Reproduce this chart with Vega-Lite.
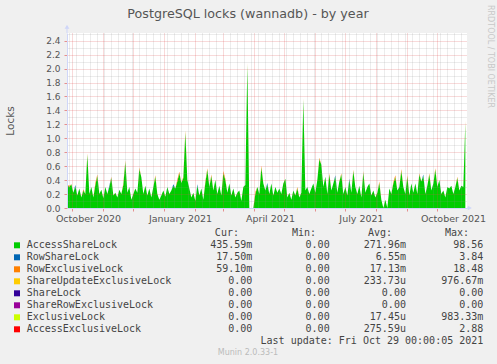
{
"$schema": "https://vega.github.io/schema/vega-lite/v6.json",
"width": 400, "height": 175,
"autosize": {"type": "none"},
"padding": {"left": 67, "top": 33, "right": 30, "bottom": 156},
"background": "#F0F0F0",
"config": {"view": {"fill": "#ffffff", "stroke": null}, "font": "DejaVu Sans"},
"title": {"text": "PostgreSQL locks (wannadb) - by year", "font": "DejaVu Sans", "fontSize": 12.7, "fontWeight": "normal", "color": "#555555", "anchor": "middle", "frame": "group", "dx": -19, "offset": -16},
"datasets": {
"series": [
{"t":"2020-09-26","AccessShareLock":0.33,"RowShareLock":0,"RowExclusiveLock":0},
{"t":"2020-09-28","AccessShareLock":0.30,"RowShareLock":0,"RowExclusiveLock":0.02},
{"t":"2020-09-30","AccessShareLock":0.34,"RowShareLock":0,"RowExclusiveLock":0},
{"t":"2020-10-02","AccessShareLock":0.22,"RowShareLock":0,"RowExclusiveLock":0},
{"t":"2020-10-04","AccessShareLock":0.31,"RowShareLock":0.02,"RowExclusiveLock":0},
{"t":"2020-10-06","AccessShareLock":0.18,"RowShareLock":0,"RowExclusiveLock":0},
{"t":"2020-10-08","AccessShareLock":0.28,"RowShareLock":0,"RowExclusiveLock":0},
{"t":"2020-10-10","AccessShareLock":0.15,"RowShareLock":0,"RowExclusiveLock":0},
{"t":"2020-10-12","AccessShareLock":0.25,"RowShareLock":0,"RowExclusiveLock":0.02},
{"t":"2020-10-14","AccessShareLock":0.20,"RowShareLock":0,"RowExclusiveLock":0},
{"t":"2020-10-16","AccessShareLock":0.76,"RowShareLock":0,"RowExclusiveLock":0.02},
{"t":"2020-10-18","AccessShareLock":0.20,"RowShareLock":0,"RowExclusiveLock":0},
{"t":"2020-10-20","AccessShareLock":0.30,"RowShareLock":0,"RowExclusiveLock":0},
{"t":"2020-10-22","AccessShareLock":0.15,"RowShareLock":0,"RowExclusiveLock":0},
{"t":"2020-10-24","AccessShareLock":0.33,"RowShareLock":0,"RowExclusiveLock":0.03},
{"t":"2020-10-26","AccessShareLock":0.46,"RowShareLock":0,"RowExclusiveLock":0.02},
{"t":"2020-10-28","AccessShareLock":0.20,"RowShareLock":0,"RowExclusiveLock":0},
{"t":"2020-10-30","AccessShareLock":0.26,"RowShareLock":0,"RowExclusiveLock":0},
{"t":"2020-11-01","AccessShareLock":0.14,"RowShareLock":0,"RowExclusiveLock":0},
{"t":"2020-11-03","AccessShareLock":0.30,"RowShareLock":0,"RowExclusiveLock":0},
{"t":"2020-11-05","AccessShareLock":0.20,"RowShareLock":0,"RowExclusiveLock":0},
{"t":"2020-11-07","AccessShareLock":0.30,"RowShareLock":0.02,"RowExclusiveLock":0},
{"t":"2020-11-09","AccessShareLock":0.43,"RowShareLock":0,"RowExclusiveLock":0.02},
{"t":"2020-11-11","AccessShareLock":0.18,"RowShareLock":0,"RowExclusiveLock":0},
{"t":"2020-11-13","AccessShareLock":0.22,"RowShareLock":0,"RowExclusiveLock":0},
{"t":"2020-11-15","AccessShareLock":0.15,"RowShareLock":0,"RowExclusiveLock":0},
{"t":"2020-11-17","AccessShareLock":0.26,"RowShareLock":0,"RowExclusiveLock":0},
{"t":"2020-11-19","AccessShareLock":0.20,"RowShareLock":0,"RowExclusiveLock":0},
{"t":"2020-11-21","AccessShareLock":0.33,"RowShareLock":0,"RowExclusiveLock":0.02},
{"t":"2020-11-23","AccessShareLock":0.66,"RowShareLock":0,"RowExclusiveLock":0.02},
{"t":"2020-11-25","AccessShareLock":0.22,"RowShareLock":0,"RowExclusiveLock":0},
{"t":"2020-11-27","AccessShareLock":0.30,"RowShareLock":0,"RowExclusiveLock":0},
{"t":"2020-11-29","AccessShareLock":0.12,"RowShareLock":0,"RowExclusiveLock":0},
{"t":"2020-12-01","AccessShareLock":0.20,"RowShareLock":0,"RowExclusiveLock":0},
{"t":"2020-12-03","AccessShareLock":0.28,"RowShareLock":0,"RowExclusiveLock":0},
{"t":"2020-12-05","AccessShareLock":0.22,"RowShareLock":0,"RowExclusiveLock":0},
{"t":"2020-12-07","AccessShareLock":0.56,"RowShareLock":0,"RowExclusiveLock":0.02},
{"t":"2020-12-09","AccessShareLock":0.44,"RowShareLock":0,"RowExclusiveLock":0},
{"t":"2020-12-11","AccessShareLock":0.20,"RowShareLock":0,"RowExclusiveLock":0},
{"t":"2020-12-13","AccessShareLock":0.32,"RowShareLock":0,"RowExclusiveLock":0},
{"t":"2020-12-15","AccessShareLock":0.18,"RowShareLock":0,"RowExclusiveLock":0},
{"t":"2020-12-17","AccessShareLock":0.28,"RowShareLock":0,"RowExclusiveLock":0},
{"t":"2020-12-19","AccessShareLock":0.15,"RowShareLock":0,"RowExclusiveLock":0},
{"t":"2020-12-21","AccessShareLock":0.30,"RowShareLock":0,"RowExclusiveLock":0},
{"t":"2020-12-23","AccessShareLock":0.45,"RowShareLock":0,"RowExclusiveLock":0.02},
{"t":"2020-12-25","AccessShareLock":0.20,"RowShareLock":0,"RowExclusiveLock":0},
{"t":"2020-12-27","AccessShareLock":0.12,"RowShareLock":0,"RowExclusiveLock":0},
{"t":"2020-12-29","AccessShareLock":0.18,"RowShareLock":0,"RowExclusiveLock":0},
{"t":"2020-12-31","AccessShareLock":0.25,"RowShareLock":0,"RowExclusiveLock":0},
{"t":"2021-01-02","AccessShareLock":0.16,"RowShareLock":0,"RowExclusiveLock":0},
{"t":"2021-01-04","AccessShareLock":0.30,"RowShareLock":0,"RowExclusiveLock":0},
{"t":"2021-01-06","AccessShareLock":0.20,"RowShareLock":0,"RowExclusiveLock":0},
{"t":"2021-01-08","AccessShareLock":0.25,"RowShareLock":0,"RowExclusiveLock":0},
{"t":"2021-01-10","AccessShareLock":0.32,"RowShareLock":0.02,"RowExclusiveLock":0},
{"t":"2021-01-12","AccessShareLock":0.28,"RowShareLock":0,"RowExclusiveLock":0},
{"t":"2021-01-14","AccessShareLock":0.38,"RowShareLock":0,"RowExclusiveLock":0.03},
{"t":"2021-01-16","AccessShareLock":0.50,"RowShareLock":0,"RowExclusiveLock":0.02},
{"t":"2021-01-18","AccessShareLock":0.36,"RowShareLock":0,"RowExclusiveLock":0},
{"t":"2021-01-20","AccessShareLock":0.43,"RowShareLock":0,"RowExclusiveLock":0.02},
{"t":"2021-01-22","AccessShareLock":1.08,"RowShareLock":0,"RowExclusiveLock":0.03},
{"t":"2021-01-24","AccessShareLock":0.40,"RowShareLock":0,"RowExclusiveLock":0},
{"t":"2021-01-26","AccessShareLock":0.28,"RowShareLock":0,"RowExclusiveLock":0},
{"t":"2021-01-28","AccessShareLock":0.15,"RowShareLock":0,"RowExclusiveLock":0},
{"t":"2021-01-30","AccessShareLock":0.22,"RowShareLock":0,"RowExclusiveLock":0},
{"t":"2021-02-01","AccessShareLock":0.10,"RowShareLock":0,"RowExclusiveLock":0},
{"t":"2021-02-03","AccessShareLock":0.32,"RowShareLock":0.02,"RowExclusiveLock":0},
{"t":"2021-02-05","AccessShareLock":0.18,"RowShareLock":0,"RowExclusiveLock":0},
{"t":"2021-02-07","AccessShareLock":0.28,"RowShareLock":0,"RowExclusiveLock":0},
{"t":"2021-02-09","AccessShareLock":0.12,"RowShareLock":0,"RowExclusiveLock":0},
{"t":"2021-02-11","AccessShareLock":0.36,"RowShareLock":0,"RowExclusiveLock":0.02},
{"t":"2021-02-13","AccessShareLock":0.55,"RowShareLock":0,"RowExclusiveLock":0.02},
{"t":"2021-02-15","AccessShareLock":0.30,"RowShareLock":0,"RowExclusiveLock":0},
{"t":"2021-02-17","AccessShareLock":0.46,"RowShareLock":0,"RowExclusiveLock":0.02},
{"t":"2021-02-19","AccessShareLock":0.25,"RowShareLock":0,"RowExclusiveLock":0},
{"t":"2021-02-21","AccessShareLock":0.40,"RowShareLock":0,"RowExclusiveLock":0},
{"t":"2021-02-23","AccessShareLock":0.20,"RowShareLock":0,"RowExclusiveLock":0},
{"t":"2021-02-25","AccessShareLock":0.32,"RowShareLock":0,"RowExclusiveLock":0},
{"t":"2021-02-27","AccessShareLock":0.18,"RowShareLock":0,"RowExclusiveLock":0},
{"t":"2021-03-01","AccessShareLock":0.50,"RowShareLock":0,"RowExclusiveLock":0.03},
{"t":"2021-03-03","AccessShareLock":0.40,"RowShareLock":0,"RowExclusiveLock":0.02},
{"t":"2021-03-05","AccessShareLock":0.22,"RowShareLock":0,"RowExclusiveLock":0},
{"t":"2021-03-07","AccessShareLock":0.35,"RowShareLock":0,"RowExclusiveLock":0},
{"t":"2021-03-09","AccessShareLock":0.18,"RowShareLock":0,"RowExclusiveLock":0},
{"t":"2021-03-11","AccessShareLock":0.28,"RowShareLock":0,"RowExclusiveLock":0},
{"t":"2021-03-13","AccessShareLock":0.15,"RowShareLock":0,"RowExclusiveLock":0},
{"t":"2021-03-15","AccessShareLock":0.22,"RowShareLock":0,"RowExclusiveLock":0},
{"t":"2021-03-17","AccessShareLock":0.25,"RowShareLock":0,"RowExclusiveLock":0},
{"t":"2021-03-19","AccessShareLock":0.10,"RowShareLock":0,"RowExclusiveLock":0},
{"t":"2021-03-21","AccessShareLock":0.30,"RowShareLock":0,"RowExclusiveLock":0},
{"t":"2021-03-23","AccessShareLock":0.33,"RowShareLock":0,"RowExclusiveLock":0},
{"t":"2021-03-25","AccessShareLock":2.05,"RowShareLock":0,"RowExclusiveLock":0.03},
{"t":"2021-03-27","AccessShareLock":0,"RowShareLock":0,"RowExclusiveLock":0},
{"t":"2021-03-29","AccessShareLock":0,"RowShareLock":0,"RowExclusiveLock":0},
{"t":"2021-03-31","AccessShareLock":0,"RowShareLock":0,"RowExclusiveLock":0},
{"t":"2021-04-02","AccessShareLock":0.20,"RowShareLock":0,"RowExclusiveLock":0.03},
{"t":"2021-04-04","AccessShareLock":0.30,"RowShareLock":0,"RowExclusiveLock":0},
{"t":"2021-04-06","AccessShareLock":0.20,"RowShareLock":0,"RowExclusiveLock":0},
{"t":"2021-04-08","AccessShareLock":0.58,"RowShareLock":0,"RowExclusiveLock":0.03},
{"t":"2021-04-10","AccessShareLock":0.35,"RowShareLock":0,"RowExclusiveLock":0},
{"t":"2021-04-12","AccessShareLock":0.25,"RowShareLock":0,"RowExclusiveLock":0},
{"t":"2021-04-14","AccessShareLock":0.34,"RowShareLock":0.02,"RowExclusiveLock":0},
{"t":"2021-04-16","AccessShareLock":0.20,"RowShareLock":0,"RowExclusiveLock":0},
{"t":"2021-04-18","AccessShareLock":0.35,"RowShareLock":0,"RowExclusiveLock":0},
{"t":"2021-04-20","AccessShareLock":0.18,"RowShareLock":0,"RowExclusiveLock":0},
{"t":"2021-04-22","AccessShareLock":0.30,"RowShareLock":0,"RowExclusiveLock":0},
{"t":"2021-04-24","AccessShareLock":0.22,"RowShareLock":0,"RowExclusiveLock":0},
{"t":"2021-04-26","AccessShareLock":0.28,"RowShareLock":0,"RowExclusiveLock":0},
{"t":"2021-04-28","AccessShareLock":0.20,"RowShareLock":0,"RowExclusiveLock":0},
{"t":"2021-04-30","AccessShareLock":0.35,"RowShareLock":0,"RowExclusiveLock":0},
{"t":"2021-05-02","AccessShareLock":0.42,"RowShareLock":0,"RowExclusiveLock":0},
{"t":"2021-05-04","AccessShareLock":0.15,"RowShareLock":0,"RowExclusiveLock":0},
{"t":"2021-05-06","AccessShareLock":0.22,"RowShareLock":0,"RowExclusiveLock":0},
{"t":"2021-05-08","AccessShareLock":0.12,"RowShareLock":0,"RowExclusiveLock":0},
{"t":"2021-05-10","AccessShareLock":0.25,"RowShareLock":0,"RowExclusiveLock":0},
{"t":"2021-05-12","AccessShareLock":0.18,"RowShareLock":0,"RowExclusiveLock":0},
{"t":"2021-05-14","AccessShareLock":0.28,"RowShareLock":0,"RowExclusiveLock":0.02},
{"t":"2021-05-16","AccessShareLock":0.15,"RowShareLock":0,"RowExclusiveLock":0},
{"t":"2021-05-18","AccessShareLock":0.22,"RowShareLock":0,"RowExclusiveLock":0},
{"t":"2021-05-20","AccessShareLock":1.55,"RowShareLock":0,"RowExclusiveLock":0.02},
{"t":"2021-05-22","AccessShareLock":0.25,"RowShareLock":0,"RowExclusiveLock":0},
{"t":"2021-05-24","AccessShareLock":0.30,"RowShareLock":0,"RowExclusiveLock":0},
{"t":"2021-05-26","AccessShareLock":0.20,"RowShareLock":0,"RowExclusiveLock":0},
{"t":"2021-05-28","AccessShareLock":0.28,"RowShareLock":0,"RowExclusiveLock":0},
{"t":"2021-05-30","AccessShareLock":0.35,"RowShareLock":0,"RowExclusiveLock":0},
{"t":"2021-06-01","AccessShareLock":0.22,"RowShareLock":0,"RowExclusiveLock":0},
{"t":"2021-06-03","AccessShareLock":0.40,"RowShareLock":0,"RowExclusiveLock":0},
{"t":"2021-06-05","AccessShareLock":0.70,"RowShareLock":0,"RowExclusiveLock":0.02},
{"t":"2021-06-07","AccessShareLock":0.62,"RowShareLock":0,"RowExclusiveLock":0},
{"t":"2021-06-09","AccessShareLock":0.30,"RowShareLock":0,"RowExclusiveLock":0},
{"t":"2021-06-11","AccessShareLock":0.45,"RowShareLock":0,"RowExclusiveLock":0},
{"t":"2021-06-13","AccessShareLock":0.20,"RowShareLock":0,"RowExclusiveLock":0},
{"t":"2021-06-15","AccessShareLock":0.48,"RowShareLock":0,"RowExclusiveLock":0.02},
{"t":"2021-06-17","AccessShareLock":0.25,"RowShareLock":0,"RowExclusiveLock":0},
{"t":"2021-06-19","AccessShareLock":0.35,"RowShareLock":0,"RowExclusiveLock":0},
{"t":"2021-06-21","AccessShareLock":0.45,"RowShareLock":0.02,"RowExclusiveLock":0},
{"t":"2021-06-23","AccessShareLock":0.22,"RowShareLock":0,"RowExclusiveLock":0},
{"t":"2021-06-25","AccessShareLock":0.38,"RowShareLock":0,"RowExclusiveLock":0},
{"t":"2021-06-27","AccessShareLock":0.48,"RowShareLock":0,"RowExclusiveLock":0.02},
{"t":"2021-06-29","AccessShareLock":0.20,"RowShareLock":0,"RowExclusiveLock":0},
{"t":"2021-07-01","AccessShareLock":0.30,"RowShareLock":0,"RowExclusiveLock":0},
{"t":"2021-07-03","AccessShareLock":0.18,"RowShareLock":0,"RowExclusiveLock":0},
{"t":"2021-07-05","AccessShareLock":0.40,"RowShareLock":0.02,"RowExclusiveLock":0},
{"t":"2021-07-07","AccessShareLock":0.22,"RowShareLock":0,"RowExclusiveLock":0},
{"t":"2021-07-09","AccessShareLock":0.53,"RowShareLock":0,"RowExclusiveLock":0.02},
{"t":"2021-07-11","AccessShareLock":0.30,"RowShareLock":0,"RowExclusiveLock":0},
{"t":"2021-07-13","AccessShareLock":0.20,"RowShareLock":0,"RowExclusiveLock":0},
{"t":"2021-07-15","AccessShareLock":0.32,"RowShareLock":0,"RowExclusiveLock":0},
{"t":"2021-07-17","AccessShareLock":0.15,"RowShareLock":0,"RowExclusiveLock":0},
{"t":"2021-07-19","AccessShareLock":0.51,"RowShareLock":0,"RowExclusiveLock":0.02},
{"t":"2021-07-21","AccessShareLock":0.22,"RowShareLock":0,"RowExclusiveLock":0},
{"t":"2021-07-23","AccessShareLock":0.30,"RowShareLock":0,"RowExclusiveLock":0},
{"t":"2021-07-25","AccessShareLock":0.35,"RowShareLock":0,"RowExclusiveLock":0},
{"t":"2021-07-27","AccessShareLock":0.18,"RowShareLock":0,"RowExclusiveLock":0},
{"t":"2021-07-29","AccessShareLock":0.25,"RowShareLock":0,"RowExclusiveLock":0},
{"t":"2021-07-31","AccessShareLock":0.15,"RowShareLock":0,"RowExclusiveLock":0},
{"t":"2021-08-02","AccessShareLock":0.22,"RowShareLock":0,"RowExclusiveLock":0},
{"t":"2021-08-04","AccessShareLock":0.36,"RowShareLock":0,"RowExclusiveLock":0.02},
{"t":"2021-08-06","AccessShareLock":0.12,"RowShareLock":0,"RowExclusiveLock":0},
{"t":"2021-08-08","AccessShareLock":0,"RowShareLock":0,"RowExclusiveLock":0},
{"t":"2021-08-10","AccessShareLock":0.12,"RowShareLock":0,"RowExclusiveLock":0},
{"t":"2021-08-12","AccessShareLock":0,"RowShareLock":0,"RowExclusiveLock":0},
{"t":"2021-08-14","AccessShareLock":0.28,"RowShareLock":0,"RowExclusiveLock":0},
{"t":"2021-08-16","AccessShareLock":0.20,"RowShareLock":0,"RowExclusiveLock":0},
{"t":"2021-08-18","AccessShareLock":0.35,"RowShareLock":0,"RowExclusiveLock":0.02},
{"t":"2021-08-20","AccessShareLock":0.44,"RowShareLock":0,"RowExclusiveLock":0.03},
{"t":"2021-08-22","AccessShareLock":0.25,"RowShareLock":0,"RowExclusiveLock":0},
{"t":"2021-08-24","AccessShareLock":0.30,"RowShareLock":0,"RowExclusiveLock":0},
{"t":"2021-08-26","AccessShareLock":0.53,"RowShareLock":0,"RowExclusiveLock":0.03},
{"t":"2021-08-28","AccessShareLock":0.30,"RowShareLock":0,"RowExclusiveLock":0},
{"t":"2021-08-30","AccessShareLock":0.20,"RowShareLock":0,"RowExclusiveLock":0},
{"t":"2021-09-01","AccessShareLock":0.45,"RowShareLock":0,"RowExclusiveLock":0.02},
{"t":"2021-09-03","AccessShareLock":0.18,"RowShareLock":0,"RowExclusiveLock":0},
{"t":"2021-09-05","AccessShareLock":0.35,"RowShareLock":0,"RowExclusiveLock":0},
{"t":"2021-09-07","AccessShareLock":0.22,"RowShareLock":0,"RowExclusiveLock":0},
{"t":"2021-09-09","AccessShareLock":0.35,"RowShareLock":0,"RowExclusiveLock":0},
{"t":"2021-09-11","AccessShareLock":0.20,"RowShareLock":0,"RowExclusiveLock":0},
{"t":"2021-09-13","AccessShareLock":0.48,"RowShareLock":0,"RowExclusiveLock":0.02},
{"t":"2021-09-15","AccessShareLock":0.38,"RowShareLock":0,"RowExclusiveLock":0},
{"t":"2021-09-17","AccessShareLock":0.46,"RowShareLock":0.02,"RowExclusiveLock":0},
{"t":"2021-09-19","AccessShareLock":0.20,"RowShareLock":0,"RowExclusiveLock":0},
{"t":"2021-09-21","AccessShareLock":0.32,"RowShareLock":0,"RowExclusiveLock":0},
{"t":"2021-09-23","AccessShareLock":0.48,"RowShareLock":0,"RowExclusiveLock":0.02},
{"t":"2021-09-25","AccessShareLock":0.25,"RowShareLock":0,"RowExclusiveLock":0},
{"t":"2021-09-27","AccessShareLock":0.35,"RowShareLock":0,"RowExclusiveLock":0},
{"t":"2021-09-29","AccessShareLock":0.55,"RowShareLock":0,"RowExclusiveLock":0.02},
{"t":"2021-10-01","AccessShareLock":0.30,"RowShareLock":0,"RowExclusiveLock":0},
{"t":"2021-10-03","AccessShareLock":0.40,"RowShareLock":0,"RowExclusiveLock":0},
{"t":"2021-10-05","AccessShareLock":0.20,"RowShareLock":0,"RowExclusiveLock":0},
{"t":"2021-10-07","AccessShareLock":0.25,"RowShareLock":0,"RowExclusiveLock":0},
{"t":"2021-10-09","AccessShareLock":0.15,"RowShareLock":0,"RowExclusiveLock":0},
{"t":"2021-10-11","AccessShareLock":0.30,"RowShareLock":0,"RowExclusiveLock":0},
{"t":"2021-10-13","AccessShareLock":0.28,"RowShareLock":0,"RowExclusiveLock":0},
{"t":"2021-10-15","AccessShareLock":0.32,"RowShareLock":0,"RowExclusiveLock":0},
{"t":"2021-10-17","AccessShareLock":0.20,"RowShareLock":0,"RowExclusiveLock":0},
{"t":"2021-10-19","AccessShareLock":0.30,"RowShareLock":0,"RowExclusiveLock":0},
{"t":"2021-10-21","AccessShareLock":0.43,"RowShareLock":0,"RowExclusiveLock":0.02},
{"t":"2021-10-23","AccessShareLock":0.25,"RowShareLock":0,"RowExclusiveLock":0},
{"t":"2021-10-25","AccessShareLock":0.32,"RowShareLock":0,"RowExclusiveLock":0},
{"t":"2021-10-27","AccessShareLock":0.30,"RowShareLock":0,"RowExclusiveLock":0},
{"t":"2021-10-29","AccessShareLock":1.22,"RowShareLock":0,"RowExclusiveLock":0.03}
],
"stats": [
{"series":"AccessShareLock","cur":"435.59m","min":"0.00\u00a0","avg":"271.96m","max":"98.56\u00a0"},
{"series":"RowShareLock","cur":"17.50m","min":"0.00\u00a0","avg":"6.55m","max":"3.84\u00a0"},
{"series":"RowExclusiveLock","cur":"59.10m","min":"0.00\u00a0","avg":"17.13m","max":"18.48\u00a0"},
{"series":"ShareUpdateExclusiveLock","cur":"0.00\u00a0","min":"0.00\u00a0","avg":"233.73u","max":"976.67m"},
{"series":"ShareLock","cur":"0.00\u00a0","min":"0.00\u00a0","avg":"0.00\u00a0","max":"0.00\u00a0"},
{"series":"ShareRowExclusiveLock","cur":"0.00\u00a0","min":"0.00\u00a0","avg":"0.00\u00a0","max":"0.00\u00a0"},
{"series":"ExclusiveLock","cur":"0.00\u00a0","min":"0.00\u00a0","avg":"17.45u","max":"983.33m"},
{"series":"AccessExclusiveLock","cur":"0.00\u00a0","min":"0.00\u00a0","avg":"275.59u","max":"2.88\u00a0"}
]
},
"layer": [
{
"data": {"name": "series"},
"transform": [{"fold": ["AccessShareLock", "RowShareLock", "RowExclusiveLock"], "as": ["lock", "value"]}],
"layer": [
{
"mark": {"type": "area"},
"encoding": {
"x": {"field": "t", "type": "temporal",
"scale": {"type": "utc", "domain": [{"year":2020,"month":9,"date":25,"hours":16,"utc":true},{"year":2021,"month":10,"date":30,"hours":16,"utc":true}]},
"axis": {"title": null, "zindex": 1,
"values": [
{"year":2020,"month":10,"date":1,"utc":true},{"year":2020,"month":11,"date":1,"utc":true},{"year":2020,"month":12,"date":1,"utc":true},
{"year":2021,"month":1,"date":1,"utc":true},{"year":2021,"month":2,"date":1,"utc":true},{"year":2021,"month":3,"date":1,"utc":true},
{"year":2021,"month":4,"date":1,"utc":true},{"year":2021,"month":5,"date":1,"utc":true},{"year":2021,"month":6,"date":1,"utc":true},
{"year":2021,"month":7,"date":1,"utc":true},{"year":2021,"month":8,"date":1,"utc":true},{"year":2021,"month":9,"date":1,"utc":true},
{"year":2021,"month":10,"date":1,"utc":true},
{"year":2020,"month":9,"date":28,"utc":true},{"year":2020,"month":10,"date":5,"utc":true},{"year":2020,"month":10,"date":12,"utc":true},
{"year":2020,"month":10,"date":19,"utc":true},{"year":2020,"month":10,"date":26,"utc":true},{"year":2020,"month":11,"date":2,"utc":true},
{"year":2020,"month":11,"date":9,"utc":true},{"year":2020,"month":11,"date":16,"utc":true},{"year":2020,"month":11,"date":23,"utc":true},
{"year":2020,"month":11,"date":30,"utc":true},{"year":2020,"month":12,"date":7,"utc":true},{"year":2020,"month":12,"date":14,"utc":true},
{"year":2020,"month":12,"date":21,"utc":true},{"year":2020,"month":12,"date":28,"utc":true},{"year":2021,"month":1,"date":4,"utc":true},
{"year":2021,"month":1,"date":11,"utc":true},{"year":2021,"month":1,"date":18,"utc":true},{"year":2021,"month":1,"date":25,"utc":true},
{"year":2021,"month":2,"date":8,"utc":true},{"year":2021,"month":2,"date":15,"utc":true},{"year":2021,"month":2,"date":22,"utc":true},
{"year":2021,"month":3,"date":8,"utc":true},{"year":2021,"month":3,"date":15,"utc":true},{"year":2021,"month":3,"date":22,"utc":true},
{"year":2021,"month":3,"date":29,"utc":true},{"year":2021,"month":4,"date":5,"utc":true},{"year":2021,"month":4,"date":12,"utc":true},
{"year":2021,"month":4,"date":19,"utc":true},{"year":2021,"month":4,"date":26,"utc":true},{"year":2021,"month":5,"date":3,"utc":true},
{"year":2021,"month":5,"date":10,"utc":true},{"year":2021,"month":5,"date":17,"utc":true},{"year":2021,"month":5,"date":24,"utc":true},
{"year":2021,"month":5,"date":31,"utc":true},{"year":2021,"month":6,"date":7,"utc":true},{"year":2021,"month":6,"date":14,"utc":true},
{"year":2021,"month":6,"date":21,"utc":true},{"year":2021,"month":6,"date":28,"utc":true},{"year":2021,"month":7,"date":5,"utc":true},
{"year":2021,"month":7,"date":12,"utc":true},{"year":2021,"month":7,"date":19,"utc":true},{"year":2021,"month":7,"date":26,"utc":true},
{"year":2021,"month":8,"date":2,"utc":true},{"year":2021,"month":8,"date":9,"utc":true},{"year":2021,"month":8,"date":16,"utc":true},
{"year":2021,"month":8,"date":23,"utc":true},{"year":2021,"month":8,"date":30,"utc":true},{"year":2021,"month":9,"date":6,"utc":true},
{"year":2021,"month":9,"date":13,"utc":true},{"year":2021,"month":9,"date":20,"utc":true},{"year":2021,"month":9,"date":27,"utc":true},
{"year":2021,"month":10,"date":4,"utc":true},{"year":2021,"month":10,"date":11,"utc":true},{"year":2021,"month":10,"date":18,"utc":true},
{"year":2021,"month":10,"date":25,"utc":true},
{"year":2020,"month":10,"date":16,"hours":16,"utc":true},{"year":2021,"month":1,"date":16,"hours":16,"utc":true},
{"year":2021,"month":4,"date":16,"hours":16,"utc":true},{"year":2021,"month":7,"date":16,"hours":16,"utc":true},
{"year":2021,"month":10,"date":16,"hours":16,"utc":true}
],
"labelExpr": "utchours(datum.value) == 16 ? utcFormat(datum.value, '%B %Y') : ''",
"labelFont": "DejaVu Sans", "labelFontSize": 9.5, "labelColor": "#555555", "labelPadding": 2,
"labelOverlap": false, "labelFlush": false,
"grid": true,
"gridColor": {"condition": {"test": "utcdate(datum.value) == 1 && utchours(datum.value) == 0", "value": "rgba(222,79,79,0.42)"}, "value": "rgba(143,143,143,0.35)"},
"gridOpacity": {"condition": {"test": "utchours(datum.value) == 16", "value": 0}, "value": 1},
"gridDash": [1, 1],
"tickColor": "rgba(222,79,79,0.6)",
"tickOpacity": {"condition": {"test": "utcdate(datum.value) == 1 && utchours(datum.value) == 0", "value": 1}, "value": 0},
"tickSize": 3,
"domainColor": "#CFD6F8"}},
"y": {"field": "value", "type": "quantitative", "stack": "zero",
"scale": {"domain": [0, 2.51], "nice": false, "zero": true},
"axis": {"zindex": 1,
"values": [0,0.1,0.2,0.3,0.4,0.5,0.6,0.7,0.8,0.9,1.0,1.1,1.2,1.3,1.4,1.5,1.6,1.7,1.8,1.9,2.0,2.1,2.2,2.3,2.4,2.5],
"labelExpr": "round(datum.value*10) % 2 == 0 ? format(datum.value, '.1f') : ''",
"labelFont": "DejaVu Sans", "labelFontSize": 9, "labelColor": "#555555", "labelPadding": 4, "labelOverlap": false, "labelFlush": false,
"grid": true,
"gridColor": {"condition": {"test": "round(datum.value*10) % 2 == 0", "value": "rgba(222,79,79,0.42)"}, "value": "rgba(143,143,143,0.35)"},
"gridOpacity": {"condition": {"test": "datum.value == 0", "value": 0}, "value": 1},
"gridDash": [1, 1],
"tickColor": "rgba(222,79,79,0.6)",
"tickOpacity": {"condition": {"test": "round(datum.value*10) % 2 == 0", "value": 1}, "value": 0},
"tickSize": 3,
"domainColor": "#CFD6F8",
"title": "Locks", "titleFont": "DejaVu Sans", "titleFontSize": 10.5, "titleFontWeight": "normal", "titleColor": "#555555",
"titleX": -57, "titleY": 87.5, "titleAngle": 270, "titleAlign": "center", "titleBaseline": "middle"}},
"color": {"field": "lock", "type": "nominal",
"scale": {"domain": ["AccessShareLock","RowShareLock","RowExclusiveLock","ShareUpdateExclusiveLock","ShareLock","ShareRowExclusiveLock","ExclusiveLock","AccessExclusiveLock"], "range": ["#00CC00","#0066B3","#FF8000","#FFCC00","#330099","#990099","#CCFF00","#FF0000"]},
"legend": null},
"order": {"field": "lock", "sort": "ascending"}
}
},
{
"data": {"values": [{}]},
"mark": {"type": "rule", "opacity": 0},
"encoding": {"y": {"datum": 0, "type": "quantitative",
"axis": {"orient": "right", "title": "RRDTOOL / TOBI OETIKER", "labels": false, "ticks": false, "domain": false, "grid": false,
"titleFont": "DejaVu Sans", "titleFontSize": 8, "titleFontWeight": "normal", "titleColor": "#c8c8c8",
"titleAngle": 90, "titleX": 22.5, "titleY": 23, "titleAlign": "center", "titleBaseline": "middle"}}}
}
],
"resolve": {"axis": {"y": "independent"}}
},
{
"data": {"values": [{}]},
"layer": [
{
"mark": {"type": "rule", "color": "#CFD6F8", "strokeWidth": 1},
"encoding": {"x": {"datum": {"year":2020,"month":9,"date":25,"hours":16,"utc":true}, "type": "temporal", "axis": null,
"scale": {"type": "utc", "domain": [{"year":2020,"month":9,"date":25,"hours":16,"utc":true},{"year":2021,"month":10,"date":30,"hours":16,"utc":true}]}},
"y": {"datum": 2.51, "type": "quantitative", "axis": null, "scale": {"domain": [0, 2.51], "nice": false, "zero": true}}, "y2": {"datum": 2.6}}
},
{
"mark": {"type": "rule", "color": "#CFD6F8", "strokeWidth": 1},
"encoding": {"x": {"datum": {"year":2021,"month":10,"date":30,"hours":16,"utc":true}, "type": "temporal", "axis": null}, "x2": {"datum": {"year":2021,"month":11,"date":2,"hours":12,"utc":true}}, "y": {"datum": 0, "type": "quantitative", "axis": null}}
},
{
"mark": {"type": "point", "shape": "triangle-up", "filled": true, "size": 22, "color": "#CFD6F8", "opacity": 1},
"encoding": {"x": {"datum": {"year":2020,"month":9,"date":25,"hours":16,"utc":true}, "type": "temporal", "axis": null}, "y": {"datum": 2.6, "type": "quantitative", "axis": null}}
},
{
"mark": {"type": "point", "shape": "triangle-right", "filled": true, "size": 22, "color": "#CFD6F8", "opacity": 1},
"encoding": {"x": {"datum": {"year":2021,"month":11,"date":2,"hours":12,"utc":true}, "type": "temporal", "axis": null}, "y": {"datum": 0, "type": "quantitative", "axis": null}}
}
]
},
{
"data": {"name": "stats"},
"encoding": {
"y": {"field": "series", "type": "nominal", "axis": null,
"scale": {"type": "point", "domain": ["_header","AccessShareLock","RowShareLock","RowExclusiveLock","ShareUpdateExclusiveLock","ShareLock","ShareRowExclusiveLock","ExclusiveLock","AccessExclusiveLock","_update","_version"], "range": [200.3, 320.3], "padding": 0}}
},
"layer": [
{"mark": {"type": "point", "shape": "square", "filled": true, "size": 36, "opacity": 1},
"encoding": {"x": {"datum": -1.61, "type": "quantitative", "axis": null, "scale": {"domain": [0, 76], "range": [-40.3, 417.2], "zero": false, "nice": false}},
"color": {"field": "series", "type": "nominal", "legend": null,
"scale": {"domain": ["AccessShareLock","RowShareLock","RowExclusiveLock","ShareUpdateExclusiveLock","ShareLock","ShareRowExclusiveLock","ExclusiveLock","AccessExclusiveLock"], "range": ["#00CC00","#0066B3","#FF8000","#FFCC00","#330099","#990099","#CCFF00","#FF0000"]}}}},
{"mark": {"type": "text", "align": "left", "baseline": "middle", "font": "DejaVu Sans Mono", "fontSize": 10, "fill": "#444444"},
"encoding": {"x": {"datum": 0, "type": "quantitative", "axis": null}, "text": {"field": "series"}}},
{"mark": {"type": "text", "align": "right", "baseline": "middle", "font": "DejaVu Sans Mono", "fontSize": 10, "fill": "#444444"},
"encoding": {"x": {"datum": 37.48, "type": "quantitative", "axis": null}, "text": {"field": "cur"}}},
{"mark": {"type": "text", "align": "right", "baseline": "middle", "font": "DejaVu Sans Mono", "fontSize": 10, "fill": "#444444"},
"encoding": {"x": {"datum": 50.33, "type": "quantitative", "axis": null}, "text": {"field": "min"}}},
{"mark": {"type": "text", "align": "right", "baseline": "middle", "font": "DejaVu Sans Mono", "fontSize": 10, "fill": "#444444"},
"encoding": {"x": {"datum": 63.0, "type": "quantitative", "axis": null}, "text": {"field": "avg"}}},
{"mark": {"type": "text", "align": "right", "baseline": "middle", "font": "DejaVu Sans Mono", "fontSize": 10, "fill": "#444444"},
"encoding": {"x": {"datum": 75.85, "type": "quantitative", "axis": null}, "text": {"field": "max"}}},
{"data": {"values": [{}]},
"mark": {"type": "text", "align": "right", "baseline": "middle", "font": "DejaVu Sans Mono", "fontSize": 10, "fill": "#444444"},
"encoding": {"x": {"datum": 35.26, "type": "quantitative", "axis": null}, "y": {"datum": "_header", "type": "nominal", "axis": null}, "text": {"value": "Cur:"}}},
{"data": {"values": [{}]},
"mark": {"type": "text", "align": "right", "baseline": "middle", "font": "DejaVu Sans Mono", "fontSize": 10, "fill": "#444444"},
"encoding": {"x": {"datum": 48.06, "type": "quantitative", "axis": null}, "y": {"datum": "_header", "type": "nominal", "axis": null}, "text": {"value": "Min:"}}},
{"data": {"values": [{}]},
"mark": {"type": "text", "align": "right", "baseline": "middle", "font": "DejaVu Sans Mono", "fontSize": 10, "fill": "#444444"},
"encoding": {"x": {"datum": 60.68, "type": "quantitative", "axis": null}, "y": {"datum": "_header", "type": "nominal", "axis": null}, "text": {"value": "Avg:"}}},
{"data": {"values": [{}]},
"mark": {"type": "text", "align": "right", "baseline": "middle", "font": "DejaVu Sans Mono", "fontSize": 10, "fill": "#444444"},
"encoding": {"x": {"datum": 73.5, "type": "quantitative", "axis": null}, "y": {"datum": "_header", "type": "nominal", "axis": null}, "text": {"value": "Max:"}}},
{"data": {"values": [{}]},
"mark": {"type": "text", "align": "right", "baseline": "middle", "font": "DejaVu Sans Mono", "fontSize": 10, "fill": "#444444"},
"encoding": {"x": {"datum": 75.85, "type": "quantitative", "axis": null}, "y": {"datum": "_update", "type": "nominal", "axis": null}, "text": {"value": "Last update: Fri Oct 29 00:00:05 2021"}}},
{"data": {"values": [{}]},
"mark": {"type": "text", "align": "center", "baseline": "middle", "font": "DejaVu Sans", "fontSize": 8, "fill": "#bbbbbb"},
"encoding": {"x": {"datum": 36.76, "type": "quantitative", "axis": null}, "y": {"datum": "_version", "type": "nominal", "axis": null}, "text": {"value": "Munin 2.0.33-1"}}}
]
}
],
"resolve": {"scale": {"x": "independent", "y": "independent"}}
}
